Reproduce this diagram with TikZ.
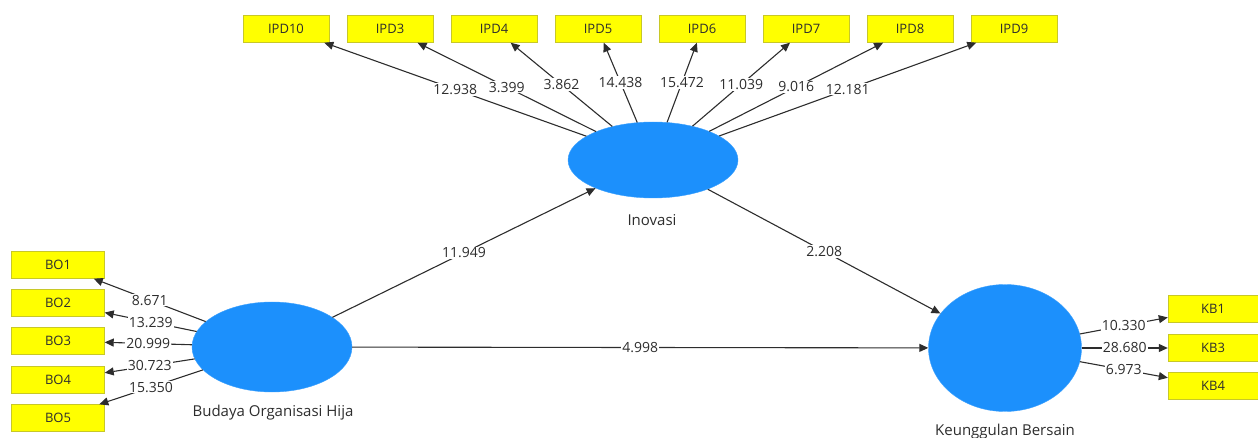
\documentclass[tikz,border=0pt]{standalone}
\usepackage{fontspec}
\setmainfont{Open Sans}
\usetikzlibrary{arrows.meta,shapes.geometric}
\definecolor{plsblue}{RGB}{28,144,252}
\definecolor{plsyellow}{RGB}{255,255,0}
\definecolor{plsedge}{RGB}{200,200,40}
\definecolor{ink}{RGB}{45,45,45}
\tikzset{
  >={Triangle[length=9pt,width=8pt]},
  ind/.style={draw=plsedge,fill=plsyellow,minimum width=#1,minimum height=27pt,
    inner sep=0pt,font=\fontsize{13}{15}\selectfont,text=ink},
  ind/.default=86pt,
  lat/.style={ellipse,fill=plsblue,draw=plsblue!85!white,inner sep=0pt},
  path/.style={->,draw=ink,line width=1.1pt},
  val/.style={fill=white,inner sep=1pt,font=\fontsize{14}{16}\selectfont,text=ink},
  tag/.style={font=\fontsize{15}{17}\selectfont,text=ink},
}

\begin{document}
\begin{tikzpicture}[x=1pt,y=-1pt]
  \useasboundingbox (0,0) rectangle (1258,438);
  % latent variables
  \node[lat,minimum width=160pt,minimum height=90pt] (bo) at (272,347) {};
  \node[lat,minimum width=170pt,minimum height=76pt] (inov) at (653,160) {};
  \node[lat,minimum width=153pt,minimum height=127pt] (kb) at (1005,348) {};
  \node[tag] (bo-lab) at (273,413) {Budaya Organisasi Hija};
  \node[tag] (inov-lab) at (652,220) {Inovasi};
  \node[tag] (kb-lab) at (1005,432) {Keunggulan Bersain};

  % indicators of Inovasi
  \foreach \n/\x/\v in {IPD10/286/12.938,IPD3/390/3.399,IPD4/494/3.862,IPD5/598/14.438,
    IPD6/702/15.472,IPD7/806/11.039,IPD8/910/9.016,IPD9/1014/12.181}
  {
    \node[ind] (\n) at (\x,29) {\n};
    \draw[path] (inov) -- node[val] {\v} (\n);
  }

  % indicators of Budaya Organisasi Hijau
  \foreach \n/\y/\v in {BO1/265/8.671,BO2/303/13.239,BO3/341/20.999,BO4/380/30.723,BO5/418/15.350}
  {
    \node[ind=93pt] (\n) at (58,\y) {\n};
    \draw[path] (bo) -- node[val] {\v} (\n);
  }

  % indicators of Keunggulan Bersaing
  \foreach \n/\y/\v in {KB1/309/10.330,KB3/348/28.680,KB4/386/6.973}
  {
    \node[ind=90pt] (\n) at (1213,\y) {\n};
    \draw[path] (kb) -- node[val] {\v} (\n);
  }

  % structural paths
  \draw[path] (bo) -- node[val] {11.949} (inov);
  \draw[path] (inov) -- node[val] {2.208} (kb);
  \draw[path] (bo) -- node[val] {4.998} (kb);
\end{tikzpicture}
\end{document}
